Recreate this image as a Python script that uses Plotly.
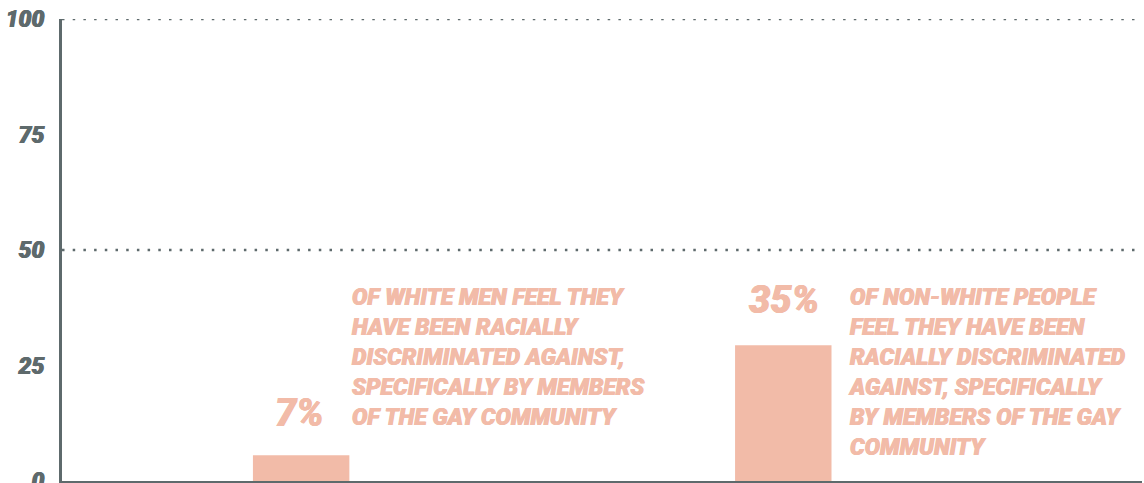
import plotly.graph_objects as go

categories = ["White men", "Non-white people"]
bar_values = [5.6, 29.4]
value_labels = ["7%", "35%"]
descriptions = [
    "OF WHITE MEN FEEL THEY<br>HAVE BEEN RACIALLY<br>DISCRIMINATED AGAINST,<br>SPECIFICALLY BY MEMBERS<br>OF THE GAY COMMUNITY",
    "OF NON-WHITE PEOPLE<br>FEEL THEY HAVE BEEN<br>RACIALLY DISCRIMINATED<br>AGAINST, SPECIFICALLY<br>BY MEMBERS OF THE GAY<br>COMMUNITY",
]
y_ticks = [0, 25, 50, 75, 100]
grid_values = [50, 100]

SALMON = "#F2BBA8"
GRAY = "#5E6A6C"
FONT = "Roboto"
THICK_S = "0.45px 0 0 %s, -0.45px 0 0 %s" % (SALMON, SALMON)
THICK_G = "0.45px 0 0 %s, -0.45px 0 0 %s" % (GRAY, GRAY)

fig = go.Figure()
fig.add_trace(go.Bar(
    x=[0, 1], y=bar_values, width=0.2,
    marker=dict(color=SALMON, line=dict(width=0)),
    hoverinfo="skip",
))

shapes = []
for g in grid_values:
    shapes.append(dict(type="line", xref="paper", x0=0, x1=1, yref="y", y0=g, y1=g,
                       line=dict(color=GRAY, width=2.5, dash="2.5px,8.2px"), layer="below"))

annotations = []
label_y = [14.7, 39.2]
for i, (lab, desc) in enumerate(zip(value_labels, descriptions)):
    annotations.append(dict(
        x=i, y=label_y[i], xref="x", yref="y", text=lab, showarrow=False,
        xanchor="center", yanchor="middle", xshift=[-2, 1][i],
        font=dict(family=FONT, size=38, color=SALMON, weight=900, style="italic", shadow=THICK_S),
    ))
    annotations.append(dict(
        x=i, y=43.0, xref="x", yref="y", text=desc, showarrow=False,
        xanchor="left", yanchor="top", align="left", xshift=[49, 63][i],
        font=dict(family=FONT, size=23, color=SALMON, weight=900, style="italic", shadow=THICK_S),
    ))

fig.update_layout(
    width=1144, height=483,
    margin=dict(l=62, r=2, t=19, b=2),
    paper_bgcolor="white", plot_bgcolor="white",
    showlegend=False,
    shapes=shapes,
    annotations=annotations,
    xaxis=dict(range=[-0.496, 1.744], showticklabels=False, showgrid=False, zeroline=False,
               showline=True, linecolor=GRAY, linewidth=3, ticks="", automargin=False),
    yaxis=dict(range=[0, 100], tickvals=y_ticks, ticktext=[str(v) for v in y_ticks],
               showgrid=False, zeroline=False, showline=True, linecolor=GRAY, linewidth=3,
               ticks="", ticklabelstandoff=10, ticklabeloverflow="allow", automargin=False,
               tickfont=dict(family=FONT, size=23, color=GRAY, weight=900, style="italic", shadow=THICK_G)),
)

fig.write_html("out.html")
